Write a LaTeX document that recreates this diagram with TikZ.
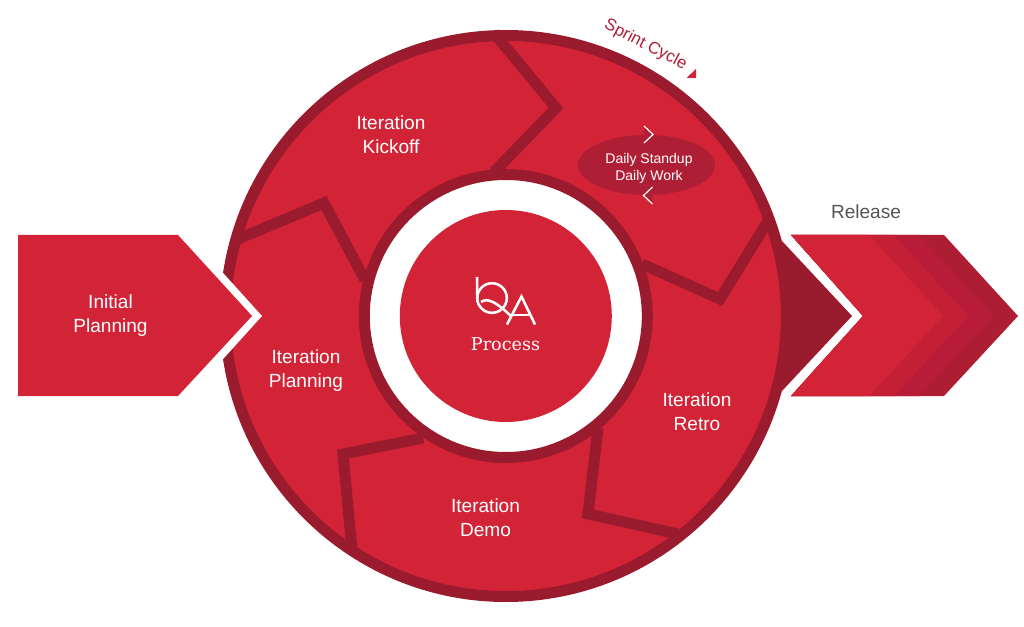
\documentclass[tikz,border=0pt]{standalone}
\usepackage{fontspec}
\setmainfont{Liberation Sans}
\newfontfamily\logofont{DejaVu Serif}
\usetikzlibrary{shapes.geometric}

\definecolor{sprintred}{HTML}{D32337}
\definecolor{ringdark}{HTML}{9B1B2E}
\definecolor{ovalred}{HTML}{AE1E35}
\definecolor{layerb}{HTML}{C32036}
\definecolor{layerc}{HTML}{B91C38}
\definecolor{layerd}{HTML}{AE1E32}
\definecolor{releasegray}{HTML}{555555}

\begin{document}
\begin{tikzpicture}[x=0.75pt,y=-0.75pt,line join=miter]
  \tikzstyle{divider}=[draw=ringdark,line width=8.25pt]
  \tikzstyle{phase}=[text=white,align=center,font=\fontsize{14.3}{18}\selectfont]
  \tikzstyle{daily}=[text=white,align=center,font=\fontsize{10.5}{12.7}\selectfont]
  \tikzstyle{chevron}=[draw=white,fill=ovalred,line width=0.9pt]
  \tikzstyle{logo}=[draw=white,line width=1.9pt]

  \useasboundingbox (0,0) rectangle (1024,627);

  \coordinate (hub) at (505.8,316);

  % dark wedge behind the release arrow
  \fill[ringdark] (772,233) -- (782,241) -- (852,316) -- (782,391) -- (772,399) -- cycle;

  % main wheel
  \fill[sprintred] (hub) circle (281);

  \coordinate (kickA) at (494,33);
  \coordinate (kickB) at (556,108);
  \coordinate (kickC) at (494,172);
  \coordinate (workA) at (768,221);
  \coordinate (workB) at (720,299);
  \coordinate (workC) at (642,264);
  \coordinate (retroA) at (598,428);
  \coordinate (retroB) at (588,514);
  \coordinate (retroC) at (678,534);
  \coordinate (demoA) at (423,438);
  \coordinate (demoB) at (343,454);
  \coordinate (demoC) at (352,550);
  \coordinate (planA) at (238,239);
  \coordinate (planB) at (324,203);
  \coordinate (planC) at (365,280);

  \draw[divider] (kickA) -- (kickB) -- (kickC);
  \draw[divider] (workA) -- (workB) -- (workC);
  \draw[divider] (retroA) -- (retroB) -- (retroC);
  \draw[divider] (demoA) -- (demoB) -- (demoC);
  \draw[divider] (planA) -- (planB) -- (planC);

  \draw[divider] (hub) circle (280.5);
  \draw[divider,fill=white] (hub) circle (141.5);
  \fill[sprintred] (hub) circle (106);

  % initial planning arrow with its white notch
  \fill[white] (215,264) -- (262,316) -- (215,368) -- cycle;
  \fill[sprintred] (18,235) -- (178,235) -- (252,316) -- (178,396) -- (18,396) -- cycle;

  % release arrow, back to front
  \foreach \layer/\tip in {layerd/1018,layerc/993,layerb/968,sprintred/943}
    \fill[\layer] (791,235) -- ({\tip-74},235) -- (\tip,316) -- ({\tip-74},396)
      -- (791,396) -- (863,316) -- cycle;

  % daily loop
  \fill[ovalred] (646.5,165) ellipse (68.5 and 30);
  \draw[chevron] (644,126) -- (653,134.5) -- (644,143);
  \draw[chevron] (652.5,187) -- (643.5,195.5) -- (652.5,204);

  \node[daily] (daily) at (649,168) {Daily Standup\\Daily Work};
  \node[phase] (kickoff) at (391,135) {Iteration\\Kickoff};
  \node[phase] (planning) at (306,371) {Iteration\\Planning};
  \node[phase] (demo) at (485.5,518) {Iteration\\Demo};
  \node[phase] (retro) at (697,412) {Iteration\\Retro};
  \node[phase] (initial) at (110.5,315.5) {Initial\\Planning};
  \node[text=releasegray,font=\fontsize{14.3}{18}\selectfont] (release) at (866,212) {Release};

  \node[text=ovalred,rotate=-27.5,font=\fontsize{12.6}{14}\selectfont] (sprint) at (645.5,45) {Sprint Cycle};
  \fill[sprintred] (686.5,78) -- (696,78) -- (696,69) -- cycle;

  % logo
  \draw[logo] (477,277) -- (477.3,298);
  \draw[logo] (492,298) circle (14.8);
  \draw[logo] (481,302) .. controls (488,297) and (497,303) .. (511,316);
  \draw[logo] (507,324.5) -- (521.5,296.5) -- (535,324.5);
  \draw[logo] (511,315) -- (530,315);
  \node[text=white,font=\logofont\fontsize{13.2}{15}\selectfont] (process) at (505.5,344) {Process};
\end{tikzpicture}
\end{document}
